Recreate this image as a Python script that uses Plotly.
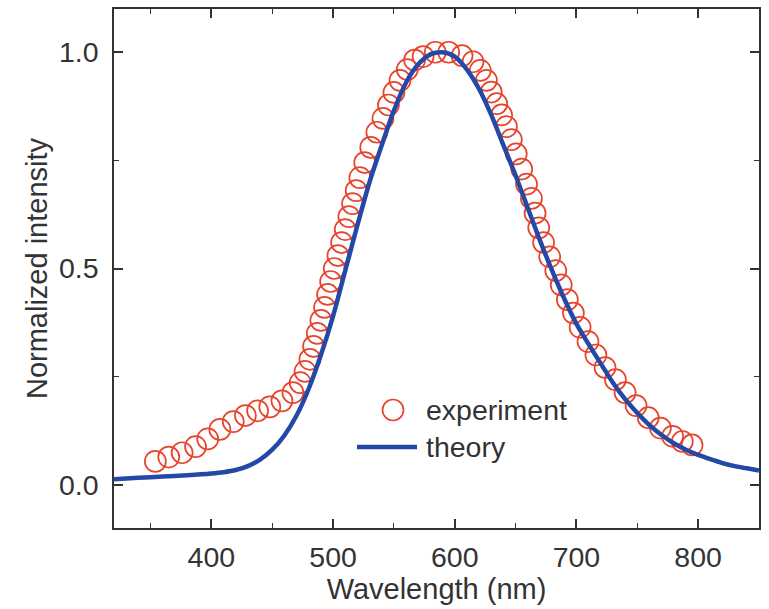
import plotly.graph_objects as go

# Measured emission spectrum (open circles)
exp_nm = [354, 365, 376, 387, 397, 407, 418, 428, 438, 448,
          458, 467, 473, 477, 481, 484, 487, 490, 493, 495.5,
          498, 501, 504, 507, 510, 513, 516, 519, 522, 526,
          531, 536, 541, 545.5, 550, 555, 561, 567, 574, 584,
          595, 606, 615, 621, 626, 630, 634.5, 638.5, 642.5, 646.5,
          650.5, 655, 659, 663, 666, 669, 673, 678, 683, 687.5,
          692.5, 697.5, 703, 709.5, 716, 723.5, 732, 740, 749, 759,
          769, 779, 787, 795]
exp_val = [0.054, 0.064, 0.074, 0.088, 0.106, 0.128, 0.146, 0.160, 0.171, 0.180,
           0.194, 0.213, 0.236, 0.262, 0.290, 0.320, 0.350, 0.380, 0.410, 0.440,
           0.470, 0.500, 0.530, 0.560, 0.590, 0.620, 0.650, 0.680, 0.710, 0.745,
           0.780, 0.815, 0.847, 0.878, 0.907, 0.935, 0.960, 0.982, 0.990, 1.000,
           1.000, 0.992, 0.978, 0.958, 0.935, 0.908, 0.881, 0.855, 0.828, 0.798,
           0.765, 0.730, 0.695, 0.662, 0.628, 0.594, 0.560, 0.527, 0.495, 0.462,
           0.428, 0.397, 0.364, 0.331, 0.300, 0.271, 0.243, 0.213, 0.183, 0.155,
           0.131, 0.112, 0.100, 0.092]

# Calculated spectrum (solid line)
th_nm = [320, 340, 360, 380, 400, 410, 420, 430, 440, 450, 460,
         470, 480, 490, 500, 510, 520, 530, 540, 550, 560,
         570, 580, 590, 600, 610, 620, 630, 640, 650, 660,
         670, 680, 690, 700, 710, 720, 730, 740, 750, 760,
         770, 780, 790, 800, 810, 820, 830, 840, 850]
th_val = [0.013, 0.016, 0.019, 0.022, 0.026, 0.029, 0.034, 0.043, 0.058, 0.081, 0.114,
          0.160, 0.222, 0.300, 0.390, 0.495, 0.600, 0.700, 0.785, 0.865, 0.930,
          0.972, 0.995, 1.000, 0.990, 0.960, 0.915, 0.855, 0.785, 0.715, 0.640,
          0.565, 0.495, 0.430, 0.372, 0.325, 0.280, 0.236, 0.198, 0.166, 0.138,
          0.115, 0.096, 0.081, 0.069, 0.059, 0.050, 0.043, 0.038, 0.033]

x_ticks = [400, 500, 600, 700, 800]
y_ticks = [0.0, 0.5, 1.0]
y_tick_text = ["0.0", "0.5", "1.0"]
series_names = ["experiment", "theory"]

RED = "#e8432c"
BLUE = "#2348a6"
INK = "#333333"
FONT = "Liberation Sans, Arial, sans-serif"

fig = go.Figure()
fig.add_trace(go.Scatter(
    x=exp_nm, y=exp_val, mode="markers", name=series_names[0],
    marker=dict(symbol="circle-open", size=21, color=RED, line=dict(width=1.7, color=RED)),
    showlegend=False,
))
fig.add_trace(go.Scatter(
    x=th_nm, y=th_val, mode="lines", name=series_names[1],
    line=dict(color=BLUE, width=4.5, shape="spline", smoothing=0.8),
    showlegend=False,
))

axis_common = dict(
    showline=True, linecolor=INK, linewidth=1.6, mirror="allticks",
    ticks="inside", ticklen=9, tickwidth=1.6, tickcolor=INK,
    showgrid=False, zeroline=False,
    tickfont=dict(family=FONT, size=28.5, color=INK),
)

fig.update_xaxes(
    range=[320, 850], tickvals=x_ticks,
    minor=dict(dtick=50, tick0=350, ticks="inside", ticklen=5, tickwidth=1.4, tickcolor=INK),
    title=dict(text="Wavelength (nm)", font=dict(family=FONT, size=29, color=INK), standoff=4),
    ticklabelstandoff=3,
    **axis_common,
)
fig.update_yaxes(
    range=[-0.1, 1.1], tickvals=y_ticks, ticktext=y_tick_text,
    minor=dict(dtick=0.25, tick0=0.25, ticks="inside", ticklen=5, tickwidth=1.4, tickcolor=INK),
    title=dict(text="Normalized intensity", font=dict(family=FONT, size=29, color=INK), standoff=3),
    ticklabelstandoff=8,
    **axis_common,
)

# Legend drawn inside the plot area
legend_shapes = [
    dict(type="circle", xref="paper", yref="paper",
         xsizemode="pixel", ysizemode="pixel",
         xanchor=0.4326, yanchor=0.2274, x0=-10.5, x1=10.5, y0=-10.5, y1=10.5,
         line=dict(color=RED, width=1.7)),
    dict(type="line", xref="paper", yref="paper",
         x0=0.3767, x1=0.4698, y0=0.156, y1=0.156,
         line=dict(color=BLUE, width=4.5)),
]
legend_labels = [
    dict(text=series_names[0], xref="paper", yref="paper", x=0.480, y=0.2274,
         xanchor="left", yanchor="middle", showarrow=False,
         font=dict(family=FONT, size=28.5, color=INK)),
    dict(text=series_names[1], xref="paper", yref="paper", x=0.480, y=0.156,
         xanchor="left", yanchor="middle", showarrow=False,
         font=dict(family=FONT, size=28.5, color=INK)),
]

fig.update_layout(
    width=769, height=609,
    margin=dict(l=114, r=10, t=9, b=81, autoexpand=False),
    plot_bgcolor="white", paper_bgcolor="white",
    shapes=legend_shapes, annotations=legend_labels,
    showlegend=False,
)

fig.write_html("out.html")
